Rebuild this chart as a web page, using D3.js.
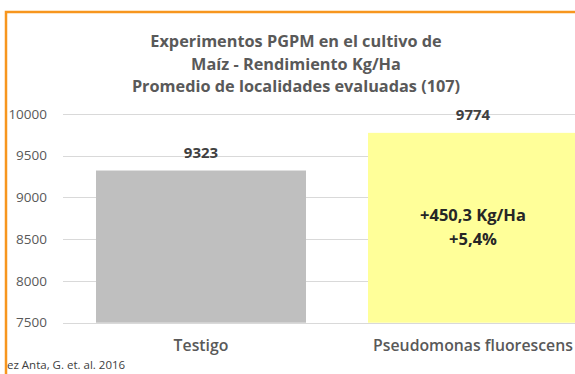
<!DOCTYPE html>
<html>
<head>
<meta charset="utf-8">
<script src="https://cdn.jsdelivr.net/npm/d3@7"></script>
<style>
  html, body { margin: 0; padding: 0; background: #fff; }
  svg { display: block; }
  text { font-family: "Open Sans", Lato, sans-serif; }
</style>
</head>
<body>
<svg id="chart" width="575" height="374"></svg>
<script>
// Average maize yield (Kg/Ha) across 107 evaluated locations
const categories = ["Testigo", "Pseudomonas fluorescens"];
const yields = [9323, 9774];
const barColors = ["#BFBFBF", "#FFFF99"];
const yTicks = [7500, 8000, 8500, 9000, 9500, 10000];
const titleLines = [
  "Experimentos PGPM en el cultivo de",
  "Maíz - Rendimiento Kg/Ha",
  "Promedio de localidades evaluadas (107)"
];
const gainLines = ["+450,3 Kg/Ha", "+5,4%"];
const sourceText = "ez Anta, G. et. al. 2016";

const svg = d3.select("#chart");

// Plot area (extends past the right edge of the frame)
const x = d3.scaleBand().domain(categories).range([65, 609]).paddingInner(0.228).paddingOuter(0.114);
const y = d3.scaleLinear().domain([7500, 10000]).range([322.7, 114]);

// Gridlines
svg.append("g")
  .selectAll("line")
  .data(yTicks)
  .join("line")
  .attr("x1", 63).attr("x2", 575)
  .attr("y1", d => Math.round(y(d)) + 0.5)
  .attr("y2", d => Math.round(y(d)) + 0.5)
  .attr("stroke", "#D9D9D9")
  .attr("stroke-width", 1);

// Y axis labels
svg.append("g")
  .selectAll("text")
  .data(yTicks)
  .join("text")
  .attr("x", 47)
  .attr("y", d => y(d))
  .attr("dy", "0.35em")
  .attr("text-anchor", "end")
  .attr("font-size", 13.5)
  .attr("fill", "#595959")
  .text(d => d);

// Bars
svg.append("g")
  .selectAll("rect")
  .data(categories)
  .join("rect")
  .attr("x", d => x(d))
  .attr("width", x.bandwidth())
  .attr("y", (d, i) => y(yields[i]))
  .attr("height", (d, i) => y(7500) - y(yields[i]))
  .attr("fill", (d, i) => barColors[i]);

// Value labels above bars
svg.append("g")
  .selectAll("text")
  .data(categories)
  .join("text")
  .attr("x", d => x(d) + x.bandwidth() / 2)
  .attr("y", (d, i) => y(yields[i]) - 18)
  .attr("dy", "0.35em")
  .attr("text-anchor", "middle")
  .attr("font-size", 15)
  .attr("font-weight", "bold")
  .attr("fill", "#404040")
  .text((d, i) => yields[i]);

// Gain annotation inside the treatment bar
svg.append("g")
  .selectAll("text")
  .data(gainLines)
  .join("text")
  .attr("x", x(categories[1]) + x.bandwidth() / 2)
  .attr("y", (d, i) => 215 + i * 24)
  .attr("dy", "0.35em")
  .attr("text-anchor", "middle")
  .attr("font-size", 16.5)
  .attr("font-weight", "bold")
  .attr("fill", "#262626")
  .text(d => d);

// Category labels
svg.append("g")
  .selectAll("text")
  .data(categories)
  .join("text")
  .attr("x", d => x(d) + x.bandwidth() / 2)
  .attr("y", 345)
  .attr("dy", "0.35em")
  .attr("text-anchor", "middle")
  .attr("font-size", 15.8)
  .attr("font-weight", 600)
  .attr("fill", "#595959")
  .text(d => d);

// Title
svg.append("g")
  .selectAll("text")
  .data(titleLines)
  .join("text")
  .attr("x", 296)
  .attr("y", (d, i) => 41.7 + i * 22.5)
  .attr("dy", "0.35em")
  .attr("text-anchor", "middle")
  .attr("font-size", 16.3)
  .attr("font-weight", "bold")
  .attr("fill", "#595959")
  .text(d => d);

// Source note
svg.append("text")
  .attr("x", 7)
  .attr("y", 365)
  .attr("dy", "0.35em")
  .attr("font-size", 11.5)
  .attr("fill", "#404040")
  .text(sourceText);

// Frame border
svg.append("path")
  .attr("d", "M6,374 V12 H575")
  .attr("fill", "none")
  .attr("stroke", "#F7961E")
  .attr("stroke-width", 2.5);
</script>
</body>
</html>
